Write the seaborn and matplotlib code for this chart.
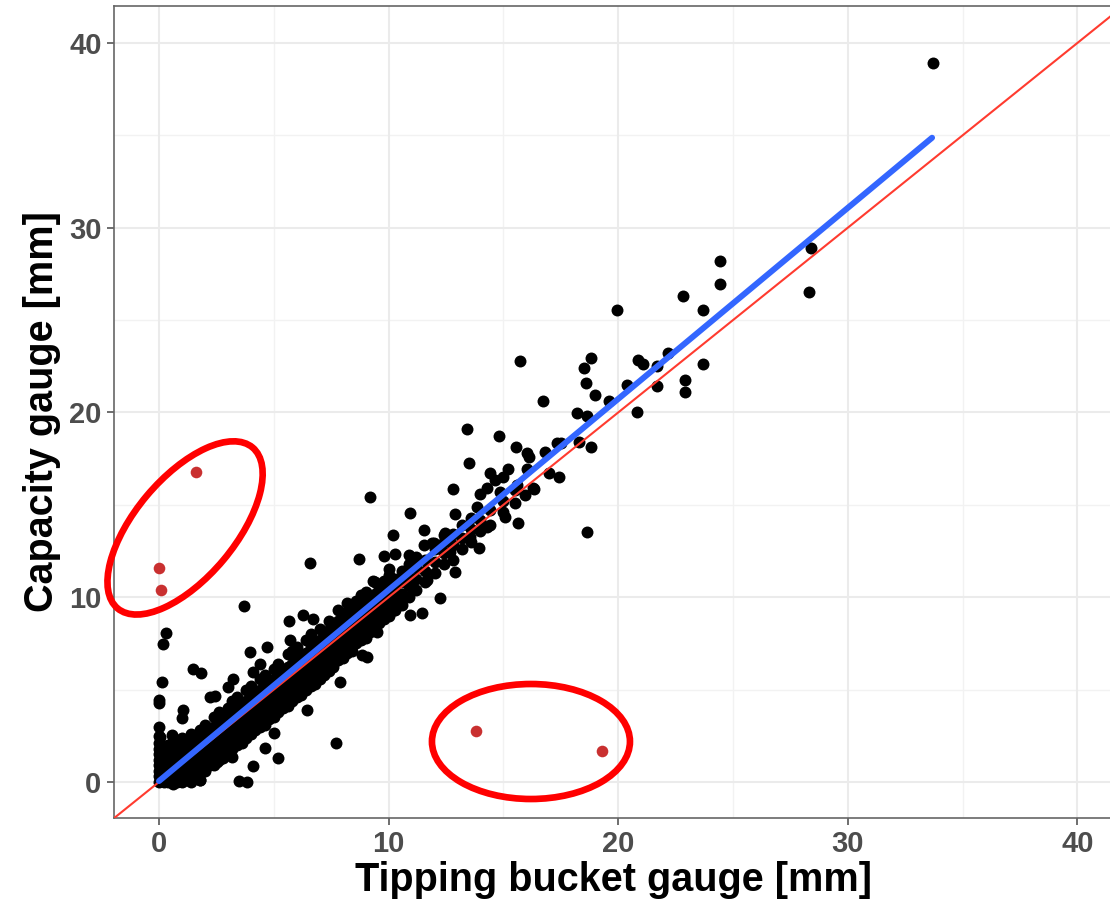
import numpy as np
import pandas as pd
import seaborn as sns
import matplotlib
matplotlib.use("Agg")
import matplotlib.pyplot as plt
from matplotlib.patches import Ellipse
from matplotlib.transforms import IdentityTransform

# ---------------- data ----------------
# scattered / outlying black points
out_tb = [33.7, 28.38, 28.29, 24.42, 24.42, 22.81, 23.71, 19.93, 23.71, 22.90, 22.90,
          22.18, 21.71, 21.71, 20.88, 21.09, 20.40, 20.80, 18.80, 18.50, 18.61, 19.01,
          19.59, 18.22, 18.62, 18.29, 18.80, 17.49, 18.62, 15.71, 16.72, 13.42, 14.80,
          17.34, 15.53, 16.04, 16.11, 16.79, 13.49, 14.40, 15.19, 14.99, 16.01, 17.41,
          16.32, 15.92, 15.60, 12.81, 13.97, 14.29, 14.65, 14.87, 13.85, 12.91, 15.09,
          15.63, 14.29, 11.53, 12.47, 13.56, 11.96, 13.93, 11.53, 12.69, 9.20, 10.92,
          10.19, 6.59, 8.72, 9.78, 10.29, 10.00, 10.87, 11.89, 12.40, 12.91, 12.25,
          11.67, 10.92, 11.46, 10.22, 9.32, 9.49, 8.84, 5.68, 6.29, 4.70, 0.31, 0.19,
          1.50, 1.82, 0.12, 0.01, 0.01, 1.06, 0.99, 0.01, 0.04, 0.55, 3.97, 2.44, 3.24,
          3.02, 4.09, 4.62, 5.20, 4.11, 3.50, 3.85, 2.52, 7.72, 3.71, 2.22, 4.40, 5.70,
          6.70, 1.80, 3.20, 5.00, 6.45, 7.90, 9.07]
out_cg = [38.93, 28.91, 26.53, 28.22, 26.98, 26.31, 25.52, 25.52, 22.63, 21.77, 21.12,
          23.24, 22.52, 21.44, 22.85, 22.63, 21.46, 20.02, 22.94, 22.40, 21.62, 20.94,
          20.64, 19.96, 19.83, 18.42, 18.12, 18.37, 13.54, 22.76, 20.63, 19.11, 18.73,
          18.37, 18.12, 17.83, 17.61, 17.85, 17.25, 16.75, 16.93, 16.53, 16.93, 16.53,
          15.86, 15.54, 16.08, 15.85, 15.58, 15.93, 16.35, 15.72, 14.91, 14.51, 14.36,
          14.04, 13.82, 13.64, 13.47, 13.28, 12.92, 12.65, 12.83, 12.47, 15.45, 14.55,
          13.36, 11.84, 12.06, 12.24, 12.34, 11.53, 12.29, 12.96, 13.37, 11.39, 9.98,
          10.94, 9.04, 9.13, 9.31, 10.90, 8.14, 6.88, 8.73, 9.04, 7.33, 8.05, 7.47,
          6.10, 5.88, 5.43, 4.44, 4.28, 3.90, 3.45, 2.99, 2.45, 2.54, 7.05, 4.66, 5.56,
          5.16, 5.97, 1.82, 1.28, 0.88, 0.07, 0.02, 1.10, 2.13, 9.55, 4.60, 6.40, 7.70,
          8.80, 0.10, 1.35, 2.65, 3.90, 5.40, 6.77]

# dense band of black points along the 1:1 line
band_tb = [0.0]*9 + [0.1]*4 + [0.2]*4 + [0.4]*6 + [0.6]*6 + [0.8]*5 + [1.0]*7 + \
          [1.2]*6 + [1.4]*7 + [1.6]*6 + [1.8]*7 + [2.0]*7 + [2.2]*6 + [2.4]*7 + \
          [2.6]*7 + [2.8]*6 + [3.0]*7 + [3.2]*7 + [3.4]*7 + [3.6]*6 + [3.8]*7 + \
          [4.0]*7 + [4.2]*6 + [4.4]*7 + [4.6]*7 + [4.8]*6 + [5.0]*7 + [5.2]*7 + \
          [5.4]*6 + [5.6]*7 + [5.8]*7 + [6.0]*7 + [6.2]*6 + [6.4]*7 + [6.6]*7 + \
          [6.8]*6 + [7.0]*7 + [7.2]*6 + [7.4]*7 + [7.6]*6 + [7.8]*7 + [8.0]*6 + \
          [8.2]*7 + [8.4]*6 + [8.6]*6 + [8.8]*6 + [9.0]*6 + [9.2]*5 + [9.4]*6 + \
          [9.6]*5 + [9.8]*5 + [10.0]*5 + [10.3]*4 + [10.6]*4 + [10.9]*4 + [11.2]*4 + \
          [11.6]*3 + [12.0]*3 + [12.4]*3 + [12.8]*3 + [13.2]*3 + [13.6]*3 + [14.0]*2 + \
          [14.4]*2 + [15.0]*2 + [15.5]*2 + [16.3] + [17.0]
band_cg = [0.0, 0.3, 0.6, 0.9, 1.2, 1.5, 1.8, 2.1, 2.5,
           0.1, 0.7, 1.3, 1.9,
           0.0, 0.4, 1.0, 1.6,
           0.0, 0.3, 0.7, 1.1, 1.5, 2.0,
           -0.1, 0.4, 0.8, 1.2, 1.7, 2.2,
           0.0, 0.5, 0.9, 1.3, 1.8,
           0.0, 0.3, 0.7, 1.1, 1.5, 1.9, 2.4,
           0.1, 0.6, 1.0, 1.4, 1.8, 2.2,
           0.0, 0.5, 0.9, 1.3, 1.7, 2.1, 2.6,
           0.3, 0.8, 1.2, 1.6, 2.0, 2.5,
           0.1, 0.7, 1.1, 1.5, 1.9, 2.3, 2.8,
           0.6, 1.0, 1.4, 1.8, 2.2, 2.6, 3.1,
           0.9, 1.3, 1.7, 2.1, 2.5, 2.9,
           0.9, 1.4, 1.8, 2.2, 2.6, 3.0, 3.5,
           1.2, 1.6, 2.0, 2.4, 2.8, 3.2, 3.8,
           1.3, 1.8, 2.2, 2.6, 3.0, 3.4,
           1.5, 1.9, 2.3, 2.7, 3.1, 3.5, 4.0,
           1.8, 2.2, 2.6, 3.0, 3.4, 3.8, 4.4,
           2.0, 2.4, 2.8, 3.2, 3.6, 4.0, 4.6,
           2.1, 2.6, 3.0, 3.4, 3.8, 4.2,
           2.4, 2.8, 3.2, 3.6, 4.0, 4.4, 5.0,
           2.6, 3.0, 3.4, 3.8, 4.2, 4.6, 5.2,
           2.8, 3.2, 3.6, 4.0, 4.4, 4.8,
           3.0, 3.4, 3.8, 4.2, 4.6, 5.0, 5.6,
           3.1, 3.6, 4.0, 4.4, 4.8, 5.2, 5.8,
           3.4, 3.8, 4.2, 4.6, 5.0, 5.4,
           3.5, 4.0, 4.4, 4.8, 5.2, 5.6, 6.1,
           3.8, 4.2, 4.6, 5.0, 5.4, 5.8, 6.4,
           4.0, 4.4, 4.8, 5.2, 5.6, 6.0,
           4.1, 4.6, 5.0, 5.4, 5.8, 6.2, 6.9,
           4.4, 4.8, 5.2, 5.6, 6.0, 6.4, 7.1,
           4.6, 5.0, 5.4, 5.8, 6.2, 6.6, 7.3,
           4.7, 5.2, 5.6, 6.0, 6.4, 6.8,
           5.0, 5.4, 5.8, 6.2, 6.6, 7.0, 7.7,
           5.2, 5.6, 6.0, 6.4, 6.8, 7.3, 8.0,
           5.3, 5.8, 6.2, 6.6, 7.0, 7.5,
           5.6, 6.0, 6.4, 6.8, 7.2, 7.7, 8.3,
           5.8, 6.3, 6.7, 7.1, 7.5, 8.0,
           6.0, 6.5, 6.9, 7.3, 7.7, 8.2, 8.7,
           6.2, 6.7, 7.1, 7.5, 7.9, 8.4,
           6.6, 7.0, 7.4, 7.8, 8.2, 8.7, 9.3,
           6.7, 7.2, 7.6, 8.0, 8.4, 8.9,
           7.0, 7.5, 7.9, 8.3, 8.7, 9.2, 9.7,
           7.1, 7.7, 8.1, 8.5, 8.9, 9.4,
           7.5, 8.0, 8.4, 8.8, 9.2, 9.8,
           7.7, 8.2, 8.6, 9.0, 9.5, 10.1,
           7.8, 8.4, 8.8, 9.2, 9.7, 10.3,
           8.1, 8.7, 9.1, 9.5, 10.0,
           8.3, 8.9, 9.3, 9.7, 10.2, 10.8,
           8.6, 9.2, 9.6, 10.0, 10.5,
           8.8, 9.4, 9.8, 10.3, 10.9,
           9.0, 9.6, 10.1, 10.6, 11.2,
           9.3, 9.9, 10.4, 11.0,
           9.6, 10.2, 10.8, 11.4,
           10.0, 10.6, 11.1, 11.8,
           10.4, 11.0, 11.6, 12.2,
           10.8, 11.4, 12.0,
           11.3, 11.9, 12.6,
           11.8, 12.4, 13.0,
           12.0, 12.8, 13.4,
           12.6, 13.2, 13.9,
           13.0, 13.7, 14.3,
           13.6, 14.2,
           13.9, 14.7,
           14.6, 15.2,
           15.1, 15.8,
           15.9,
           16.7]

# suspicious points (highlighted red)
sus_tb = [0.0, 0.1, 1.6, 13.8, 19.3]
sus_cg = [11.59, 10.4, 16.8, 2.76, 1.68]

# fitted regression line (blue)
fit_tb = [0.0, 33.67]
fit_cg = [0.05, 34.87]

# annotation ellipses: centre (data units), size in pixels, angle
ell_centres = [(1.135, 13.75), (16.2, 2.19)]
ell_sizes = [(210, 100, 50), (198, 115, 0)]

x_ticks = [0, 10, 20, 30, 40]
y_ticks = [0, 10, 20, 30, 40]

# ---------------- plot ----------------
sns.set_theme(style="white")
plt.rcParams['font.family'] = ['Liberation Sans', 'DejaVu Sans']

W, H = 1110, 907
fig = plt.figure(figsize=(W / 100, H / 100), dpi=100)
ax = fig.add_axes([114 / W, 1 - 818 / H, (1113 - 114) / W, (818 - 6) / H])

black = pd.DataFrame({"tb": band_tb + out_tb, "cg": band_cg + out_cg})
sus = pd.DataFrame({"tb": sus_tb, "cg": sus_cg})
fit = pd.DataFrame({"tb": fit_tb, "cg": fit_cg})

ax.set_xlim(-1.96, 41.55)
ax.set_ylim(-1.95, 42.0)

# grid
for v in [5, 15, 25, 35]:
    ax.axvline(v, color="#F2F2F2", lw=1.0, zorder=0)
    ax.axhline(v, color="#F2F2F2", lw=1.0, zorder=0)
for v in x_ticks:
    ax.axvline(v, color="#EBEBEB", lw=1.5, zorder=0)
for v in y_ticks:
    ax.axhline(v, color="#EBEBEB", lw=1.5, zorder=0)

sns.scatterplot(data=black, x="tb", y="cg", color="black", s=74, linewidth=0,
                ax=ax, zorder=2)
ax.axline((0, 0), slope=1, color="#FF3B2F", lw=1.5, zorder=3)
sns.lineplot(data=fit, x="tb", y="cg", color="#3366FF", lw=4.3, ax=ax, zorder=4)
sns.scatterplot(data=sus, x="tb", y="cg", color="#C93030", s=70, linewidth=0,
                ax=ax, zorder=5)

ax.set_xticks(x_ticks)
ax.set_yticks(y_ticks)
ax.set_xticklabels([str(t) for t in x_ticks])
ax.set_yticklabels([str(t) for t in y_ticks])
ax.tick_params(axis="both", which="major", length=5, width=1.2, color="#555555",
               labelsize=21, labelcolor="#4D4D4D", pad=4, direction="out",
               bottom=True, left=True)
for lab in ax.get_xticklabels() + ax.get_yticklabels():
    lab.set_fontweight("bold")

ax.set_xlabel("Tipping bucket gauge [mm]", fontsize=28.5, fontweight="bold",
              color="black", labelpad=2)
ax.set_ylabel("Capacity gauge [mm]", fontsize=28.5, fontweight="bold",
              color="black", labelpad=6)

for s in ax.spines.values():
    s.set_color("#666666")
    s.set_linewidth(1.2)
ax.spines["right"].set_visible(False)

fig.canvas.draw()
for (cx, cy), (w, h, ang) in zip(ell_centres, ell_sizes):
    px, py = ax.transData.transform((cx, cy))
    e = Ellipse((px, py), width=w, height=h, angle=ang, fill=False,
                edgecolor="#FF0000", lw=4.8, transform=IdentityTransform(),
                clip_on=False, zorder=6)
    fig.add_artist(e)

fig.savefig("out.png", dpi=100)
